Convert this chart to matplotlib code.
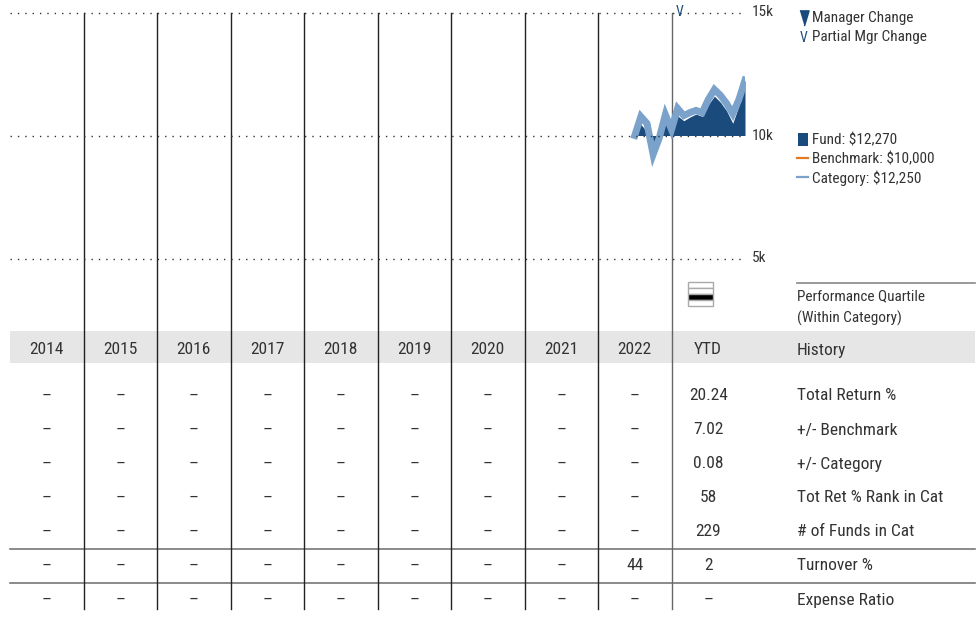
import pandas as pd
import matplotlib.pyplot as plt
import numpy as np
from matplotlib import font_manager
from matplotlib.patches import Rectangle

# pick a narrow sans face if one is installed
fonts = font_manager.fontManager.ttflist
names = {f.name for f in fonts}
narrow = None
for cand in ['Liberation Sans Narrow', 'Roboto Condensed', 'Open Sans Condensed', 'Noto Sans Condensed']:
    if cand in names:
        narrow = cand
        break
stretch = 'normal'
if narrow is None:
    for fam in ['Roboto', 'Noto Sans', 'DejaVu Sans', 'Open Sans']:
        if any(f.name == fam and f.stretch in ('condensed', 'semi-condensed', 75, 87.5) for f in fonts):
            narrow, stretch = fam, 'condensed'
            break
if narrow is None:
    narrow = 'Roboto' if 'Roboto' in names else 'Liberation Sans'
    scale = 0.86
else:
    scale = 1.0
plt.rcParams['font.family'] = [narrow, 'DejaVu Sans']
plt.rcParams['font.stretch'] = stretch

# Growth of $10,000 (month-end values)
month_ends = pd.date_range('2022-06-30', periods=19, freq='ME')
fund_growth = [10000, 10450, 10150, 9550, 9850, 10550, 10050, 10800, 10600, 10750,
               10870, 10780, 11250, 11600, 11350, 11000, 10500, 11200, 12270]
category_growth = [10000, 10770, 10490, 9230, 9900, 10850, 10240, 11100, 10810, 10930,
                   11020, 10930, 11460, 11870, 11630, 11300, 10890, 11460, 12250]
partial_mgr_change = ['2023-01-31']

# Performance table
columns = ['2014', '2015', '2016', '2017', '2018', '2019', '2020', '2021', '2022', 'YTD']
total_return = [None] * 9 + ['20.24']
plus_benchmark = [None] * 9 + ['7.02']
plus_category = [None] * 9 + ['0.08']
rank_in_cat = [None] * 9 + ['58']
funds_in_cat = [None] * 9 + ['229']
turnover = [None] * 8 + ['44', '2']
expense_ratio = [None] * 10
row_labels = ['Total Return %', '+/- Benchmark', '+/- Category', 'Tot Ret % Rank in Cat',
              '# of Funds in Cat', 'Turnover %', 'Expense Ratio']
rows = [total_return, plus_benchmark, plus_category, rank_in_cat, funds_in_cat, turnover, expense_ratio]
ytd_quartile = 3

fund_color = '#1b4a7d'
cat_color = '#7ba2ca'
bench_color = '#e07b24'
txt = '#333333'
fs_big = 12.5 * scale
fs_small = 11 * scale

W, H = 980, 626
fig = plt.figure(figsize=(W / 100, H / 100), dpi=100)

# layout in pixels
x0, col_w = 10, 73.5
n_cols = len(columns)
x_end = x0 + col_w * n_cols
y_top, y_bot = 12.5, 258.5
label_x = 797

# background/table axes in pixel units
tb = fig.add_axes([0, 0, 1, 1])
tb.set_xlim(0, W)
tb.set_ylim(H, 0)
tb.axis('off')

# chart axes
ax = fig.add_axes([x0 / W, (H - y_bot) / H, (x_end - x0) / W, (y_bot - y_top) / H])
ax.set_xlim(2014, 2014 + n_cols)
ax.set_ylim(5000, 15000)
ax.patch.set_alpha(0)
for s in ax.spines.values():
    s.set_visible(False)
ax.set_xticks([])
ax.set_yticks([])

for v in [5000, 10000, 15000]:
    ax.axhline(v, color='#333333', lw=1.0, linestyle=(0, (1, 4.3)), zorder=5, clip_on=False)
    ax.text(1.0 + 7 / (x_end - x0), v, f'{v // 1000}k', transform=ax.get_yaxis_transform(),
            ha='left', va='center', fontsize=fs_small, color=txt)

mx = month_ends.year + month_ends.month / 12
ax.fill_between(mx, 10000, fund_growth, color=fund_color, lw=0, zorder=2)
ax.plot(mx, category_growth, color=cat_color, lw=5, solid_joinstyle='miter', zorder=3)

for d in pd.to_datetime(partial_mgr_change):
    ax.text(d.year + d.month / 12 + 0.02, 15000, 'V', ha='center', va='center',
            fontsize=10, color=fund_color, zorder=6, clip_on=False)

# column separators
for i in range(1, n_cols):
    c = '#666666' if i == n_cols - 1 else '#222222'
    tb.plot([x0 + i * col_w] * 2, [y_top, 609], color=c, lw=1.0, zorder=3)

# header band
tb.add_patch(Rectangle((x0, 331), 975 - x0, 32, color='#e6e6e6', lw=0, zorder=1))
for i, c in enumerate(columns):
    tb.text(x0 + (i + 0.5) * col_w, 350, c, ha='center', va='center', fontsize=fs_big, color=txt, zorder=4)
tb.text(label_x, 350, 'History', ha='left', va='center', fontsize=fs_big, color=txt, zorder=4)

# table rows
row_y = [396, 430, 464, 498, 532, 566, 600]
for y, lab, vals in zip(row_y, row_labels, rows):
    for i, v in enumerate(vals):
        tb.text(x0 + (i + 0.5) * col_w, y, '–' if v is None else v, ha='center', va='center',
                fontsize=fs_big, color=txt, zorder=4)
    tb.text(label_x, y, lab, ha='left', va='center', fontsize=fs_big, color=txt, zorder=4)

for y in [549, 583]:
    tb.plot([x0, 975], [y, y], color='#777777', lw=1.2, zorder=2)

# quartile box
qx, qy, qw, qh = 688, 282, 25, 24
for r in range(4):
    tb.add_patch(Rectangle((qx, qy + r * qh / 4), qw, qh / 4,
                           facecolor='black' if r + 1 == ytd_quartile else 'white',
                           edgecolor='#aaaaaa', lw=1.0, zorder=4))
tb.plot([label_x, 975], [283, 283], color='#888888', lw=1.2, zorder=2)
tb.text(label_x, 296, 'Performance Quartile', ha='left', va='center', fontsize=fs_small, color=txt)
tb.text(label_x, 318, '(Within Category)', ha='left', va='center', fontsize=fs_small, color=txt)

# legend
tri = [(-0.3, 0.5), (0.3, 0.5), (0, -0.5)]
tb.plot([804], [18], marker=tri, markersize=11, color=fund_color, lw=0)
tb.text(804, 38, 'V', ha='center', va='center', fontsize=10, color=fund_color)
tb.text(812, 18, 'Manager Change', ha='left', va='center', fontsize=fs_small, color=txt)
tb.text(812, 37, 'Partial Mgr Change', ha='left', va='center', fontsize=fs_small, color=txt)

tb.add_patch(Rectangle((798, 133), 10, 13, color=fund_color, lw=0))
tb.plot([797, 808], [158, 158], color=bench_color, lw=1.6)
tb.plot([797, 808], [177, 177], color=cat_color, lw=1.6)
tb.text(812, 140, 'Fund: $12,270', ha='left', va='center', fontsize=fs_small, color=txt)
tb.text(812, 159, 'Benchmark: $10,000', ha='left', va='center', fontsize=fs_small, color=txt)
tb.text(812, 178, 'Category: $12,250', ha='left', va='center', fontsize=fs_small, color=txt)

fig.savefig('out.png', dpi=100)
